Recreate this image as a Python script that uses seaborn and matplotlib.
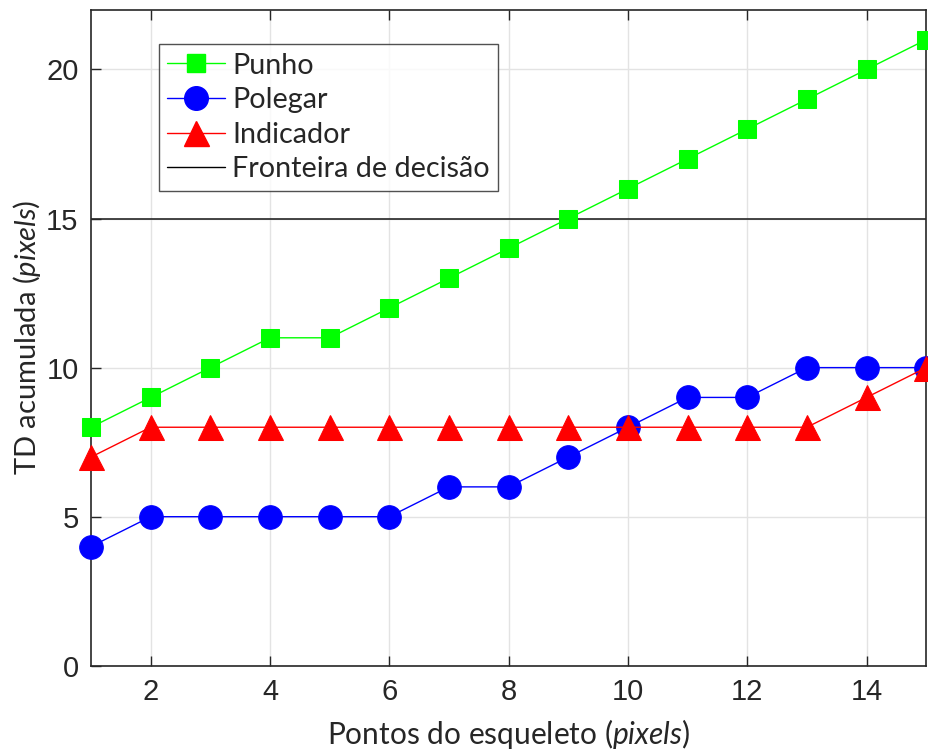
import numpy as np
import pandas as pd
import matplotlib
matplotlib.use("Agg")
import matplotlib.pyplot as plt
import seaborn as sns
from matplotlib.lines import Line2D

x_points = list(range(1, 16))
punho = [8, 9, 10, 11, 11, 12, 13, 14, 15, 16, 17, 18, 19, 20, 21]
polegar = [4, 5, 5, 5, 5, 5, 6, 6, 7, 8, 9, 9, 10, 10, 10]
indicador = [7, 8, 8, 8, 8, 8, 8, 8, 8, 8, 8, 8, 8, 9, 10]
fronteira = 15
labels = ["Punho", "Polegar", "Indicador", "Fronteira de decisão"]

sns.set_theme(style="white")
plt.rcParams['font.family'] = ['Liberation Sans', 'DejaVu Sans']
plt.rcParams['mathtext.fontset'] = 'custom'
plt.rcParams['mathtext.it'] = 'Lato:italic'
plt.rcParams['mathtext.rm'] = 'Lato'

fig = plt.figure(figsize=(9.29, 7.54), dpi=100)
ax = fig.add_axes([0.098, 0.117, 0.899, 0.870])

df = pd.DataFrame({"x": x_points, "Punho": punho, "Polegar": polegar, "Indicador": indicador})

sns.lineplot(data=df, x="x", y="Punho", ax=ax, color="#00ff00", lw=1.0,
             marker="s", markersize=13, markerfacecolor="#00ff00", markeredgecolor="#00ff00",
             clip_on=False, zorder=3)
sns.lineplot(data=df, x="x", y="Polegar", ax=ax, color="#0000ff", lw=1.0,
             marker="o", markersize=17, markerfacecolor="#0000ff", markeredgecolor="#0000ff",
             clip_on=False, zorder=4)
sns.lineplot(data=df, x="x", y="Indicador", ax=ax, color="#ff0000", lw=1.0,
             marker="^", markersize=18, markerfacecolor="#ff0000", markeredgecolor="#ff0000",
             clip_on=False, zorder=5)
ax.axhline(fronteira, color="#262626", lw=1.2, zorder=2)

ax.set_xlim(1, 15)
ax.set_ylim(0, 22)
ax.set_xticks([2, 4, 6, 8, 10, 12, 14])
ax.set_yticks([0, 5, 10, 15, 20])
ax.grid(True, color="#e3e3e3", lw=1.0)
ax.set_axisbelow(True)
for s in ax.spines.values():
    s.set_color("#262626")
    s.set_linewidth(1.2)
ax.tick_params(axis="both", direction="in", length=7, width=1.0, color="#262626",
               labelsize=21, labelcolor="#262626", top=True, right=False, bottom=True, left=True, pad=9)
for t in ax.get_xticklabels() + ax.get_yticklabels():
    t.set_fontfamily(['Liberation Sans', 'DejaVu Sans'])

lab_font = ['Lato', 'DejaVu Sans']
ax.set_xlabel("Pontos do esqueleto ($\\it{pixels}$)", fontsize=21.5, family=lab_font, labelpad=8)
ax.set_ylabel("TD acumulada ($\\it{pixels}$)", fontsize=21, family=lab_font, labelpad=2)

handles = [
    Line2D([], [], color="#00ff00", lw=1.0, marker="s", markersize=13),
    Line2D([], [], color="#0000ff", lw=1.0, marker="o", markersize=17),
    Line2D([], [], color="#ff0000", lw=1.0, marker="^", markersize=18),
    Line2D([], [], color="black", lw=1.0),
]
leg = ax.legend(handles, labels, loc="upper left", bbox_to_anchor=(0.081, 0.948),
                prop={'family': lab_font, 'size': 20.7}, frameon=True, fancybox=False,
                edgecolor="#262626", handlelength=2.0, handletextpad=0.25,
                labelspacing=0.3, borderpad=0.3, borderaxespad=0)
leg.get_frame().set_linewidth(1.0)

fig.savefig("out.png", dpi=100)
